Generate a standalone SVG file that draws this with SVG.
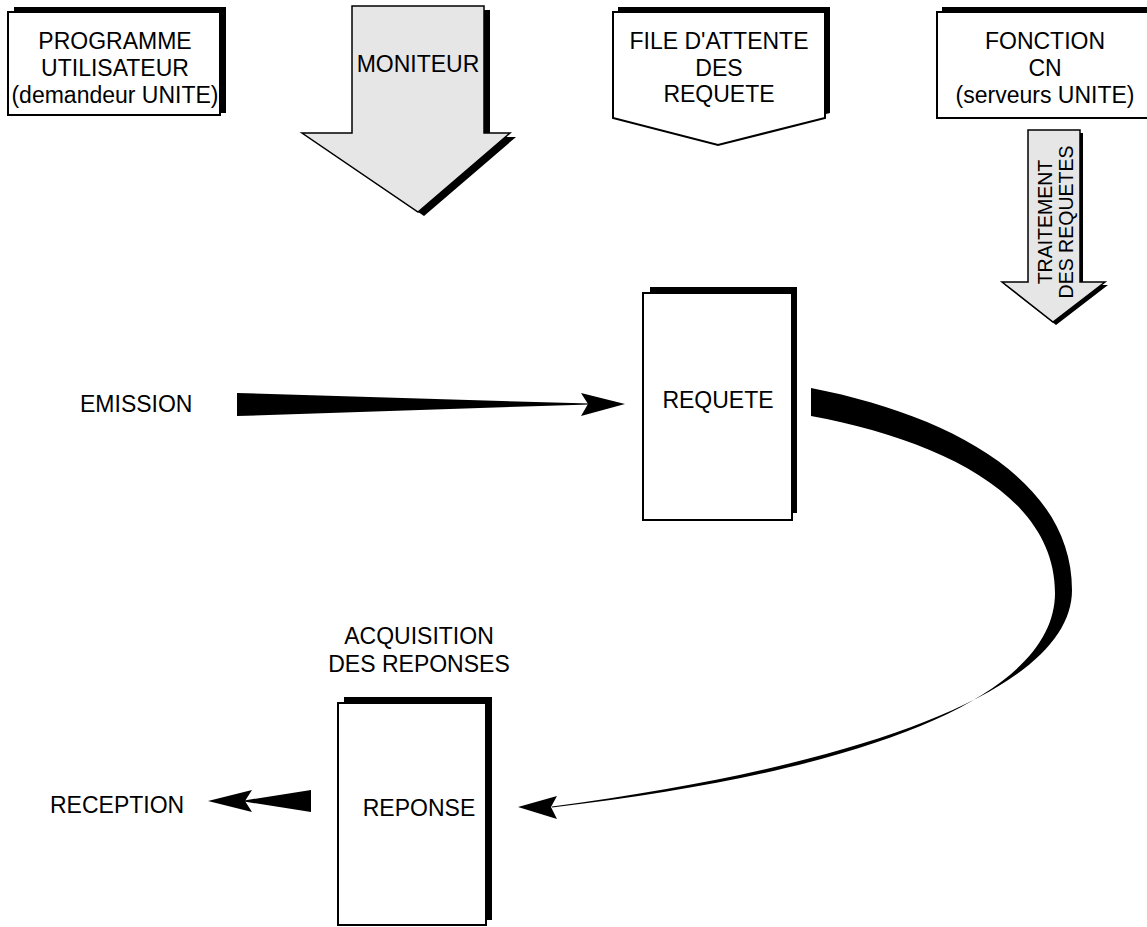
<svg xmlns="http://www.w3.org/2000/svg" width="1147" height="927" viewBox="0 0 1147 927">
<style>
.t{font-family:"Liberation Sans",Arial,Helvetica,sans-serif;font-size:23px;fill:#000;text-anchor:middle}
.ts{font-family:"Liberation Sans",Arial,Helvetica,sans-serif;font-size:23px;fill:#000;text-anchor:start}
.tr{font-family:"Liberation Sans",Arial,Helvetica,sans-serif;font-size:19.5px;fill:#000;text-anchor:middle}
.box{fill:#fff;stroke:#000;stroke-width:2}
.sh{fill:#000}
.arw{fill:#e6e6e6;stroke:#000;stroke-width:1.5;stroke-linejoin:miter}
.blk{fill:#000}
</style>
<rect width="1147" height="927" fill="#fff"/>

<g id="programme">
<rect class="sh" x="14" y="7" width="212" height="106"/>
<rect class="box" x="8" y="12" width="212" height="103"/>
<text class="t" x="115" y="49">PROGRAMME</text>
<text class="t" x="115" y="76">UTILISATEUR</text>
<text class="t" x="115" y="103">(demandeur UNITE)</text>
</g>

<g id="moniteur">
<polygon class="sh" points="358,10 490,10 490,137 516,137 424,216 308,137 358,137"/>
<polygon class="arw" points="352,6 484,6 484,133 510,133 418,212 302,133 352,133"/>
<text class="t" x="418" y="72">MONITEUR</text>
</g>

<g id="file-attente">
<polygon class="sh" points="618,7 830,7 830,113 723,140 618,113"/>
<polygon class="box" points="613,12 825,12 825,118 718,145 613,118"/>
<text class="t" x="719" y="49">FILE D'ATTENTE</text>
<text class="t" x="719" y="76">DES</text>
<text class="t" x="719" y="102">REQUETE</text>
</g>

<g id="fonction">
<rect class="sh" x="942" y="7" width="216" height="106"/>
<rect class="box" x="937" y="12" width="216" height="106"/>
<text class="t" x="1045" y="49">FONCTION</text>
<text class="t" x="1045" y="76">CN</text>
<text class="t" x="1045" y="103">(serveurs UNITE)</text>
</g>

<g id="traitement">
<polygon class="sh" points="1031,133 1083,133 1083,285 1108,285 1056,325 1005,285 1031,285"/>
<polygon class="arw" points="1028,130 1080,130 1080,282 1105,282 1053,322 1002,282 1028,282"/>
<text class="tr" transform="translate(1052,222) rotate(-90)">TRAITEMENT</text>
<text class="tr" transform="translate(1073,222) rotate(-90)">DES REQUETES</text>
</g>

<g id="emission">
<text class="ts" x="80" y="412">EMISSION</text>
</g>

<g id="requete">
<rect class="sh" x="650" y="287" width="147" height="226"/>
<rect class="box" x="643" y="293" width="149" height="227"/>
<text class="t" x="718" y="408">REQUETE</text>
</g>

<g id="acquisition">
<text class="t" x="419" y="644">ACQUISITION</text>
<text class="t" x="419" y="672">DES REPONSES</text>
</g>

<g id="reponse">
<rect class="sh" x="344" y="697" width="148" height="223"/>
<rect class="box" x="338" y="703" width="148" height="222"/>
<text class="t" x="419" y="816">REPONSE</text>
</g>

<g id="reception">
<text class="ts" x="50" y="813">RECEPTION</text>
</g>

<g id="connectors">
<polygon class="blk" points="237,393 590,403.6 590,404.4 237,416"/>
<polygon class="blk" points="625,404 581,393 588,404 581,416"/>
<path class="blk" d="M811 388 C950 415 1072 480 1072 590 C1072 680 900 760 552 806.5 L552 807.5 C890 768 1055 690 1055 593 C1055 495 940 440 811 416 Z"/>
<polygon class="blk" points="518,807 557,796 551,807 557,819"/>
<polygon class="blk" points="311,790 311,812 244,801.5 244,800.5"/>
<polygon class="blk" points="208,801 252,790 245,801 252,812"/>
</g>
</svg>
